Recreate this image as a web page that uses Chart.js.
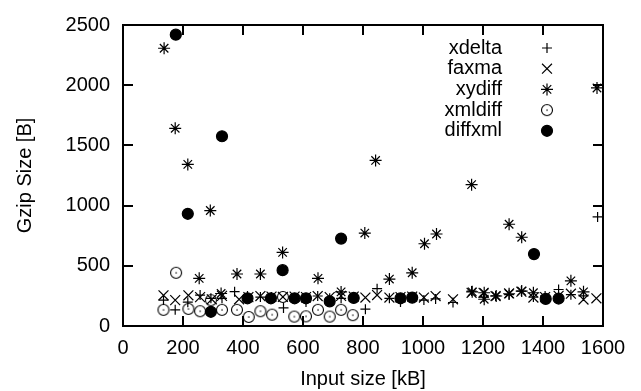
<!DOCTYPE html>
<html>
<head>
<meta charset="utf-8">
<title>Gzip size vs input size</title>
<script src="https://cdn.jsdelivr.net/npm/chart.js@4.4.1/dist/chart.umd.min.js"></script>
<style>
    html, body { margin: 0; padding: 0; background: #fff; }
    #wrap { width: 641px; height: 391px; }
</style>
</head>
<body>
<div id="wrap"><canvas id="gzipChart"></canvas></div>
<script>
// ===== DATA (kB on x, bytes on y) =====

const xTickValues = [0, 200, 400, 600, 800, 1000, 1200, 1400, 1600];
const yTickValues = [0, 500, 1000, 1500, 2000, 2500];

const xdeltaX = [135, 174, 216, 257, 293, 330, 372, 415, 458, 495, 535, 572, 610, 649, 689, 727, 769, 808, 847, 888, 925, 964, 1003, 1042, 1100, 1162, 1202, 1242, 1287, 1328, 1368, 1407, 1452, 1493, 1535, 1582];
const xdeltaY = [215, 134, 198, 257, 230, 230, 285, 250, 240, 240, 150, 230, 200, 249, 230, 230, 230, 140, 310, 230, 200, 230, 215, 225, 195, 290, 240, 250, 260, 290, 240, 250, 303, 260, 250, 906];

const faxmaX = [135, 174, 218, 257, 296, 330, 387, 418, 458, 495, 533, 572, 610, 649, 689, 727, 769, 808, 847, 888, 925, 964, 1003, 1042, 1100, 1162, 1202, 1242, 1287, 1328, 1368, 1407, 1452, 1493, 1535, 1578];
const faxmaY = [255, 215, 255, 240, 222, 250, 222, 240, 249, 245, 241, 245, 240, 249, 240, 250, 245, 236, 257, 236, 240, 245, 236, 249, 222, 276, 276, 249, 270, 285, 236, 240, 250, 268, 220, 230];

const xydiffX = [137, 174, 216, 254, 291, 327, 380, 458, 532, 650, 727, 806, 842, 888, 964, 1005, 1045, 1162, 1164, 1204, 1204, 1244, 1287, 1287, 1329, 1329, 1368, 1493, 1535, 1580];
const xydiffY = [2307, 1642, 1342, 396, 959, 270, 432, 432, 611, 396, 283, 772, 1375, 390, 442, 683, 764, 1174, 284, 276, 222, 249, 845, 268, 737, 290, 276, 375, 284, 1977];

const xmldiffX = [135, 177, 218, 257, 293, 330, 380, 419, 458, 497, 533, 571, 610, 650, 689, 727, 766];
const xmldiffY = [134, 442, 142, 123, 214, 134, 134, 75, 123, 94, 241, 78, 80, 134, 78, 134, 90];

const diffxmlX = [176, 216, 293, 330, 415, 493, 532, 572, 610, 689, 727, 769, 925, 964, 1370, 1409, 1452];
const diffxmlY = [2420, 932, 118, 1576, 230, 230, 464, 230, 230, 205, 726, 233, 230, 236, 597, 225, 228];

const FONT = "'Liberation Sans', Arial, sans-serif";

function toPoints(xs, ys) {
    return xs.map((x, i) => ({ x: x, y: ys[i] }));
}

// open circle with a dot in the middle (gnuplot style)
function dottedCircle() {
    const c = document.createElement("canvas");
    c.width = 14;
    c.height = 14;
    const g = c.getContext("2d");
    g.strokeStyle = "#000";
    g.lineWidth = 1.1;
    g.beginPath();
    g.arc(7, 7, 5.5, 0, Math.PI * 2);
    g.stroke();
    g.fillStyle = "#000";
    g.fillRect(6.4, 6.4, 1.3, 1.3);
    return c;
}

// ===== FRAME + INWARD TICKS =====
const frameTicks = {
    id: "frameTicks",
    afterDatasetsDraw(chart) {
        const { ctx, chartArea: a, scales } = chart;
        const len = 10;
        ctx.save();
        ctx.strokeStyle = "#000";
        ctx.lineWidth = 2;
        ctx.beginPath();
        xTickValues.forEach(v => {
            const px = Math.round(scales.x.getPixelForValue(v));
            ctx.moveTo(px, a.bottom); ctx.lineTo(px, a.bottom - len);
            ctx.moveTo(px, a.top); ctx.lineTo(px, a.top + len);
        });
        yTickValues.forEach(v => {
            const py = Math.round(scales.y.getPixelForValue(v));
            ctx.moveTo(a.left, py); ctx.lineTo(a.left + len, py);
            ctx.moveTo(a.right, py); ctx.lineTo(a.right - len, py);
        });
        ctx.stroke();
        ctx.strokeRect(a.left, a.top, a.right - a.left, a.bottom - a.top);
        ctx.restore();
    }
};

// ===== LEGEND (text right aligned, marker on the right) =====
const sideLegend = {
    id: "sideLegend",
    afterDraw(chart) {
        const { ctx, chartArea: a } = chart;
        ctx.save();
        ctx.font = "20px " + FONT;
        ctx.textAlign = "right";
        ctx.textBaseline = "middle";
        chart.data.datasets.forEach((ds, i) => {
            const y = a.top + 23 + i * 20.7;
            ctx.fillStyle = "#000";
            ctx.fillText(ds.label, a.right - 101, y);
            ctx.strokeStyle = "#000";
            ctx.fillStyle = ds.pointBackgroundColor;
            ctx.lineWidth = 1.2;
            Chart.helpers.drawPoint(ctx, {
                pointStyle: ds.pointStyle,
                radius: ds.pointRadius,
                borderWidth: 1.2,
                rotation: 0
            }, a.right - 56, y);
        });
        ctx.restore();
    }
};

Chart.defaults.color = "#000";
Chart.defaults.font.family = FONT;

function series(label, xs, ys, style, radius, fill) {
    return {
        label: label,
        data: toPoints(xs, ys),
        pointStyle: style,
        pointRadius: radius,
        pointBorderColor: "#000",
        pointBackgroundColor: fill,
        pointBorderWidth: 1.2,
        showLine: false
    };
}

const ctx = document.getElementById("gzipChart").getContext("2d");

new Chart(ctx, {
    type: "scatter",
    data: {
        datasets: [
            series("xdelta", xdeltaX, xdeltaY, "cross", 5, "transparent"),
            series("faxma", faxmaX, faxmaY, "crossRot", 7, "transparent"),
            series("xydiff", xydiffX, xydiffY, "star", 6, "transparent"),
            series("xmldiff", xmldiffX, xmldiffY, dottedCircle(), 6, "transparent"),
            series("diffxml", diffxmlX, diffxmlY, "circle", 5.5, "#000")
        ]
    },
    options: {
        responsive: true,
        maintainAspectRatio: false,
        animation: false,
        layout: { padding: { top: 15, right: 38, left: 0, bottom: 0 } },
        plugins: {
            legend: { display: false },
            tooltip: { enabled: false }
        },
        scales: {
            x: {
                type: "linear",
                min: 0,
                max: 1600,
                afterBuildTicks: s => { s.ticks = xTickValues.map(v => ({ value: v })); },
                afterFit: s => { s.height = 65; },
                grid: { display: false, drawTicks: false },
                border: { display: false },
                ticks: { padding: 10, maxRotation: 0, font: { size: 20 }, callback: v => String(v) },
                title: {
                    display: true,
                    text: "Input size [kB]",
                    font: { size: 20 },
                    padding: { top: 0, bottom: 0 }
                }
            },
            y: {
                type: "linear",
                min: 0,
                max: 2500,
                afterBuildTicks: s => { s.ticks = yTickValues.map(v => ({ value: v })); },
                afterFit: s => { s.width = 123; },
                grid: { display: false, drawTicks: false },
                border: { display: false },
                ticks: { padding: 13, font: { size: 20 }, callback: v => String(v) },
                title: {
                    display: true,
                    text: "Gzip Size [B]",
                    font: { size: 20 },
                    padding: { top: 13, bottom: 0 }
                }
            }
        }
    },
    plugins: [frameTicks, sideLegend]
});
</script>
</body>
</html>
